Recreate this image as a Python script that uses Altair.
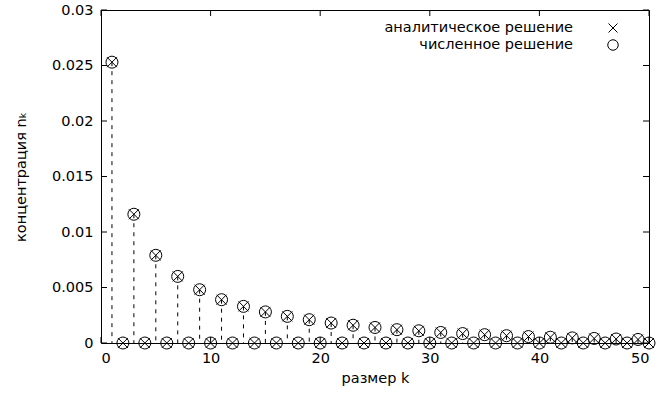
import altair as alt
import pandas as pd

# size k
k_values = list(range(1, 51))
# analytic solution (odd k nonzero, even k zero)
analytic_n = [0.0253, 0, 0.0116, 0, 0.0079, 0, 0.0060, 0, 0.0048, 0,
              0.0039, 0, 0.0033, 0, 0.0028, 0, 0.0024, 0, 0.0021, 0,
              0.0018, 0, 0.0016, 0, 0.0014, 0, 0.0012, 0, 0.0011, 0,
              0.00095, 0, 0.00085, 0, 0.00075, 0, 0.00066, 0, 0.00058, 0,
              0.00052, 0, 0.00046, 0, 0.00041, 0, 0.00036, 0, 0.00032, 0]
# numerical solution
numeric_n = [0.0253, 0, 0.0116, 0, 0.0079, 0, 0.0060, 0, 0.0048, 0,
             0.0039, 0, 0.0033, 0, 0.0028, 0, 0.0024, 0, 0.0021, 0,
             0.0018, 0, 0.0016, 0, 0.0014, 0, 0.0012, 0, 0.0011, 0,
             0.00095, 0, 0.00085, 0, 0.00075, 0, 0.00066, 0, 0.00058, 0,
             0.00052, 0, 0.00046, 0, 0.00041, 0, 0.00036, 0, 0.00032, 0]

x_ticks = [0, 10, 20, 30, 40, 50]
y_ticks = [0, 0.005, 0.01, 0.015, 0.02, 0.025, 0.03]
legend_labels = ["аналитическое решение", "численное решение"]

W, H = 548, 333
FONT = "DejaVu Sans"
FS = 14.5

df = pd.DataFrame({"k": k_values, "analytic": analytic_n, "numeric": numeric_n})
xt = pd.DataFrame({"k": x_ticks})
yt = pd.DataFrame({"n": y_ticks})

xscale = alt.Scale(domain=[0, 50], nice=False, zero=False)
yscale = alt.Scale(domain=[0, 0.03], nice=False)

xaxis = alt.Axis(values=x_ticks, grid=False, domain=False, ticks=False,
                 labelFont=FONT, labelFontSize=FS, labelColor="black",
                 labelPadding=8, title="размер k", titleFont=FONT,
                 titleFontSize=FS, titleFontWeight="normal", titleColor="black",
                 titlePadding=7)
yaxis = alt.Axis(values=y_ticks, grid=False, domain=False, ticks=False,
                 format="~g", labelFont=FONT, labelFontSize=FS,
                 labelColor="black", labelPadding=8,
                 title="концентрация nₖ", titleFont=FONT, titleFontSize=FS,
                 titleFontWeight="normal", titleColor="black", titlePadding=23)

base = alt.Chart(df)

impulses = base.mark_rule(color="black", strokeWidth=1, strokeDash=[4, 5]).encode(
    x=alt.X("k:Q", scale=xscale, axis=xaxis),
    y=alt.Y("analytic:Q", scale=yscale, axis=yaxis),
    y2=alt.datum(0),
)

XSHAPE = "M-1,-1L1,1M-1,1L1,-1"

crosses = base.mark_point(shape=XSHAPE, filled=False, size=100, color="black",
                          strokeWidth=1, opacity=1).encode(
    x=alt.X("k:Q", scale=xscale, axis=xaxis),
    y=alt.Y("analytic:Q", scale=yscale, axis=yaxis),
)

circles = base.mark_point(shape="circle", filled=False, size=144, color="black",
                          strokeWidth=1, opacity=1).encode(
    x=alt.X("k:Q", scale=xscale, axis=xaxis),
    y=alt.Y("numeric:Q", scale=yscale, axis=yaxis),
)

tick_len = 6
xt_bottom = alt.Chart(xt).mark_rule(color="black", strokeWidth=1).encode(
    x=alt.X("k:Q", scale=xscale, axis=xaxis),
    y=alt.value(H), y2=alt.value(H - tick_len))
xt_top = alt.Chart(xt).mark_rule(color="black", strokeWidth=1).encode(
    x=alt.X("k:Q", scale=xscale, axis=xaxis),
    y=alt.value(0), y2=alt.value(tick_len))
yt_left = alt.Chart(yt).mark_rule(color="black", strokeWidth=1).encode(
    y=alt.Y("n:Q", scale=yscale, axis=yaxis),
    x=alt.value(0), x2=alt.value(tick_len))
yt_right = alt.Chart(yt).mark_rule(color="black", strokeWidth=1).encode(
    y=alt.Y("n:Q", scale=yscale, axis=yaxis),
    x=alt.value(W), x2=alt.value(W - tick_len))

one = alt.Data(values=[{}])
leg_text_x = 472
leg_mark_x = 512
leg_y1, leg_y2 = 18, 35

leg1_text = alt.Chart(one).mark_text(font=FONT, fontSize=FS, align="right",
                                     baseline="middle", color="black").encode(
    x=alt.value(leg_text_x), y=alt.value(leg_y1), text=alt.value(legend_labels[0]))
leg2_text = alt.Chart(one).mark_text(font=FONT, fontSize=FS, align="right",
                                     baseline="middle", color="black").encode(
    x=alt.value(leg_text_x), y=alt.value(leg_y2), text=alt.value(legend_labels[1]))
leg1_mark = alt.Chart(one).mark_point(shape=XSHAPE, filled=False, size=81,
                                      color="black", strokeWidth=1, opacity=1).encode(
    x=alt.value(leg_mark_x), y=alt.value(leg_y1))
leg2_mark = alt.Chart(one).mark_point(shape="circle", filled=False, size=110,
                                      color="black", strokeWidth=1, opacity=1).encode(
    x=alt.value(leg_mark_x), y=alt.value(leg_y2))

chart = alt.layer(
    impulses, crosses, circles, xt_bottom, xt_top, yt_left, yt_right,
    leg1_text, leg2_text, leg1_mark, leg2_mark
).properties(
    width=W, height=H,
    autosize=alt.AutoSizeParams(type="none"),
    padding={"left": 101, "top": 10, "right": 16, "bottom": 56},
    background="white",
).configure_view(stroke="black", strokeWidth=1)

chart.save("out.html", embed_options={"renderer": "svg", "actions": False})
